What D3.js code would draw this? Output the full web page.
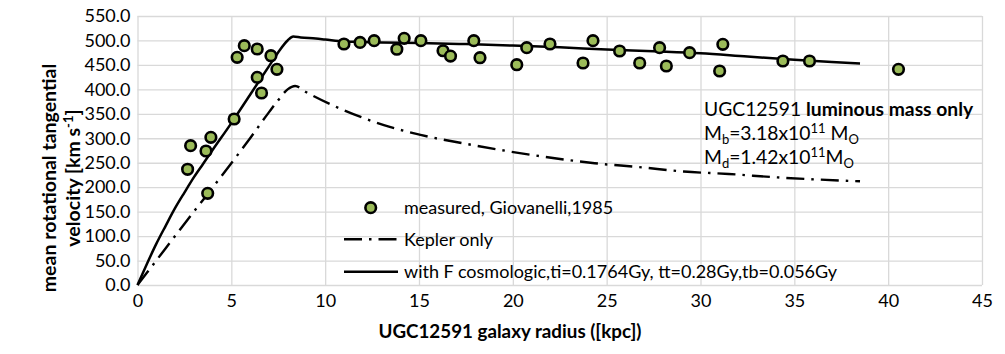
<!DOCTYPE html>
<html><head><meta charset="utf-8">
<script src="https://cdn.jsdelivr.net/npm/d3@7/dist/d3.min.js"></script>
<style>
body{margin:0;background:#fff}
svg{display:block}
text{font-family:Lato,"Open Sans",sans-serif;fill:#000}
</style>
</head><body>
<svg id="chart" width="1005" height="354"></svg>
<script>
// ---- data ----
const measuredX = [2.67,2.83,3.65,3.91,3.74,5.15,5.31,5.69,6.38,7.11,7.43,6.38,6.61,
  11.0,11.86,12.61,13.82,14.21,15.1,16.28,16.68,17.92,18.25,20.21,20.74,21.98,23.74,24.27,
  25.69,26.76,27.82,28.18,29.42,31.19,31.02,34.39,35.81,40.55];
const measuredY = [236.6,284.8,274,302,187.5,339.4,465.5,489.3,482.5,468.8,441,424.6,392.6,
  492.7,496,499.5,482,504.4,499.5,479,468,499.5,464.7,450.4,485.2,492.7,453.9,499.5,
  478.4,453.9,485.2,447.8,475,492.1,437.5,458,458,441];

const keplerX = [0,1,2,3,4,5,6,7,7.5,8,8.4,9,10.54,12,13.13,15.08,18.1,19.83,22.85,24.36,26.74,29.1,31.5,34.1,38.5];
const keplerY = [0,50,100,150,199,249,300,353,378,400,407,394,365,342,327,307,284.5,273,256,249,241,232,227,220,212];

const cosmoX = [0,0.5,1,1.5,2,2.5,3,3.5,4,5,6,7,7.5,8,8.3,8.7,9.5,10,11,12,13,15,17.5,20,22.5,25,27.5,30,32.5,35,37,38.5];
const cosmoY = [0,43,84,121,157,189,220,248,276,331,389,447,476,500,508,506,504,502,498,497,496,495,492.5,489.5,486,481.5,478,474,467,460.5,456,453];

const xTicks = [0,5,10,15,20,25,30,35,40,45];
const yTicks = [0,50,100,150,200,250,300,350,400,450,500,550];

const legendLabels = ["measured, Giovanelli,1985","Kepler only","with F cosmologic,ti=0.1764Gy, tt=0.28Gy,tb=0.056Gy"];
const xTitle = "UGC12591 galaxy radius ([kpc])";

// ---- layout ----
const svg = d3.select("#chart");
const x = d3.scaleLinear().domain([0,45]).range([137.5,982]);
const y = d3.scaleLinear().domain([0,550]).range([285,16]);

const grid = "#D9D9D9";
const gx = svg.append("g").attr("transform","translate(0,285)")
  .call(d3.axisBottom(x).tickValues(xTicks).tickSize(-269).tickFormat(d=>d).tickPadding(9));
gx.select(".domain").remove();
gx.selectAll("line").attr("stroke",grid).attr("stroke-width",1.3);
gx.selectAll("text").attr("font-size",18).attr("fill","#000");

const gy = svg.append("g").attr("transform","translate(137.5,0)")
  .call(d3.axisLeft(y).tickValues(yTicks).tickSize(-844.5).tickFormat(d3.format(".1f")).tickPadding(7));
gy.select(".domain").remove();
gy.selectAll("line").attr("stroke",grid).attr("stroke-width",1.3);
gy.selectAll("text").attr("font-size",18).attr("fill","#000");

// lines
const line = d3.line().x(d=>x(d[0])).y(d=>y(d[1])).curve(d3.curveMonotoneX);
svg.append("path").datum(keplerX.map((v,i)=>[v,keplerY[i]]))
  .attr("d",line).attr("fill","none").attr("stroke","#000").attr("stroke-width",2.4)
  .attr("stroke-dasharray","18,7,2.5,7");
svg.append("path").datum(cosmoX.map((v,i)=>[v,cosmoY[i]]))
  .attr("d",line).attr("fill","none").attr("stroke","#000").attr("stroke-width",2.5);

// points
svg.append("g").selectAll("circle").data(measuredX.map((v,i)=>[v,measuredY[i]]))
  .join("circle").attr("cx",d=>x(d[0])).attr("cy",d=>y(d[1])).attr("r",5.3)
  .attr("fill","#9BBB59").attr("stroke","#000").attr("stroke-width",2.6);

// legend
const lg = svg.append("g");
lg.append("circle").attr("cx",370.7).attr("cy",207.7).attr("r",5.3)
  .attr("fill","#9BBB59").attr("stroke","#000").attr("stroke-width",2.6);
lg.append("line").attr("x1",344).attr("x2",398).attr("y1",239.3).attr("y2",239.3)
  .attr("stroke","#000").attr("stroke-width",2.4).attr("stroke-dasharray","18,7,2.5,7");
lg.append("line").attr("x1",344).attr("x2",398).attr("y1",271.7).attr("y2",271.7)
  .attr("stroke","#000").attr("stroke-width",2.5);
[207.7,239.3,271.7].forEach((yy,i)=>{
  lg.append("text").attr("x",404).attr("y",yy).attr("dy","0.35em").attr("font-size",18).text(legendLabels[i]);
});

// annotation
const ann = svg.append("g").attr("font-size",19.3);
const t1 = ann.append("text").attr("x",704).attr("y",116);
t1.append("tspan").text("UGC12591 ");
t1.append("tspan").attr("font-weight","bold").text("luminous mass only");
const t2 = ann.append("text").attr("x",704).attr("y",140);
t2.append("tspan").text("M");
t2.append("tspan").attr("font-size",13).attr("dy",4).text("b");
t2.append("tspan").attr("dy",-4).text("=3.18x10");
t2.append("tspan").attr("font-size",13).attr("dy",-7).text("11");
t2.append("tspan").attr("dy",7).text(" M");
t2.append("tspan").attr("font-size",13).attr("dy",4).text("O");
const t3 = ann.append("text").attr("x",704).attr("y",164);
t3.append("tspan").text("M");
t3.append("tspan").attr("font-size",13).attr("dy",4).text("d");
t3.append("tspan").attr("dy",-4).text("=1.42x10");
t3.append("tspan").attr("font-size",13).attr("dy",-7).text("11");
t3.append("tspan").attr("dy",7).text("M");
t3.append("tspan").attr("font-size",13).attr("dy",4).text("O");

// axis titles
svg.append("text").attr("x",510).attr("y",338).attr("text-anchor","middle")
  .attr("font-weight","bold").attr("font-size",18.8).text(xTitle);

const yt = svg.append("text").attr("transform","rotate(-90)")
  .attr("text-anchor","middle").attr("font-weight","bold").attr("font-size",19.5);
yt.append("tspan").attr("x",-178).attr("y",56).text("mean rotational tangential");
const l2 = yt.append("tspan").attr("x",-178).attr("y",80);
l2.append("tspan").text("velocity [km s");
l2.append("tspan").attr("font-size",13).attr("dy",-7).text("-1");
l2.append("tspan").attr("dy",7).text("]");
</script>
</body></html>
